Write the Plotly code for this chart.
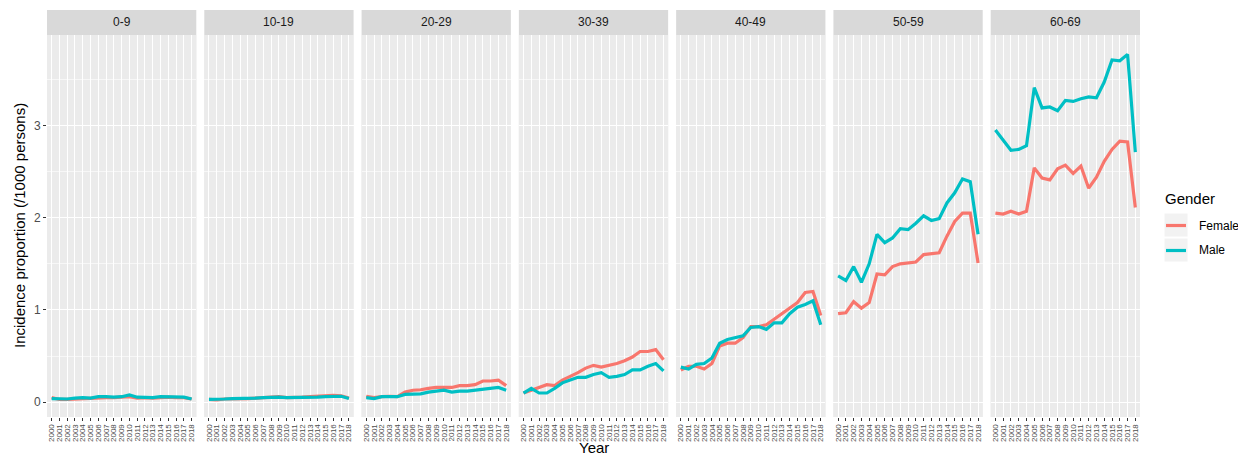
import plotly.graph_objects as go
from plotly.subplots import make_subplots

# Incidence proportion (/1000 persons) by age group, gender and year
years = list(range(2000, 2019))
age_groups = ["0-9", "10-19", "20-29", "30-39", "40-49", "50-59", "60-69"]

female = {
    "0-9":   [0.05, 0.03, 0.03, 0.035, 0.04, 0.04, 0.045, 0.05, 0.05, 0.055, 0.06, 0.045, 0.05, 0.045, 0.05, 0.055, 0.05, 0.05, 0.035],
    "10-19": [0.03, 0.025, 0.035, 0.035, 0.04, 0.04, 0.045, 0.05, 0.06, 0.06, 0.05, 0.05, 0.055, 0.06, 0.065, 0.07, 0.075, 0.07, 0.045],
    "20-29": [0.065, 0.05, 0.06, 0.065, 0.06, 0.11, 0.13, 0.135, 0.15, 0.16, 0.16, 0.16, 0.18, 0.18, 0.19, 0.23, 0.23, 0.24, 0.18],
    "30-39": [0.10, 0.13, 0.16, 0.19, 0.18, 0.24, 0.28, 0.32, 0.37, 0.40, 0.38, 0.40, 0.42, 0.45, 0.49, 0.55, 0.55, 0.57, 0.46],
    "40-49": [0.35, 0.39, 0.39, 0.36, 0.42, 0.61, 0.64, 0.64, 0.70, 0.82, 0.82, 0.84, 0.90, 0.96, 1.03, 1.08, 1.19, 1.20, 0.94],
    "50-59": [0.96, 0.97, 1.09, 1.02, 1.08, 1.39, 1.38, 1.47, 1.50, 1.51, 1.52, 1.60, 1.61, 1.62, 1.80, 1.96, 2.05, 2.05, 1.51],
    "60-69": [2.05, 2.04, 2.07, 2.04, 2.07, 2.54, 2.43, 2.41, 2.53, 2.57, 2.48, 2.56, 2.32, 2.44, 2.61, 2.74, 2.83, 2.82, 2.11],
}
male = {
    "0-9":   [0.04, 0.04, 0.035, 0.045, 0.05, 0.045, 0.06, 0.06, 0.055, 0.06, 0.08, 0.055, 0.055, 0.05, 0.06, 0.06, 0.055, 0.055, 0.035],
    "10-19": [0.03, 0.03, 0.035, 0.04, 0.04, 0.04, 0.045, 0.05, 0.055, 0.055, 0.05, 0.05, 0.05, 0.055, 0.055, 0.06, 0.065, 0.065, 0.04],
    "20-29": [0.05, 0.04, 0.06, 0.06, 0.06, 0.085, 0.085, 0.09, 0.11, 0.12, 0.13, 0.11, 0.12, 0.12, 0.13, 0.135, 0.15, 0.16, 0.13],
    "30-39": [0.10, 0.15, 0.10, 0.10, 0.15, 0.21, 0.24, 0.27, 0.27, 0.30, 0.32, 0.27, 0.28, 0.30, 0.35, 0.35, 0.39, 0.42, 0.34],
    "40-49": [0.38, 0.36, 0.41, 0.42, 0.48, 0.64, 0.68, 0.70, 0.72, 0.81, 0.82, 0.79, 0.86, 0.86, 0.96, 1.03, 1.06, 1.10, 0.84],
    "50-59": [1.37, 1.32, 1.47, 1.30, 1.50, 1.82, 1.73, 1.78, 1.88, 1.87, 1.94, 2.02, 1.97, 1.99, 2.16, 2.27, 2.42, 2.39, 1.82],
    "60-69": [2.95, 2.84, 2.73, 2.74, 2.78, 3.41, 3.19, 3.20, 3.16, 3.27, 3.26, 3.29, 3.31, 3.30, 3.47, 3.71, 3.70, 3.77, 2.71],
}

genders = ["Female", "Male"]
colors = {"Female": "#F8766D", "Male": "#00BFC4"}
y_ticks = [0, 1, 2, 3]

FONT = "Liberation Sans, Arial, Helvetica, sans-serif"
W, H = 1238, 459
ML, MR, MT, MB = 47, 98, 10, 42
PW, PH = W - ML - MR, H - MT - MB
STRIP_H = 25
panel_top = 1 - STRIP_H / PH


def px_x(x):
    return (x - ML) / PW


def px_y(y):
    return (H - MB - y) / PH


n = len(age_groups)
fig = make_subplots(rows=1, cols=n, shared_yaxes=True, horizontal_spacing=8 / PW)

for i, grp in enumerate(age_groups, start=1):
    for g, series in (("Female", female), ("Male", male)):
        fig.add_trace(
            go.Scatter(
                x=years, y=series[grp], mode="lines", name=g,
                line=dict(color=colors[g], width=3.2),
                showlegend=False, hoverinfo="skip",
            ),
            row=1, col=i,
        )

for i in range(1, n + 1):
    fig.update_xaxes(
        row=1, col=i,
        range=[years[0] - 0.6, years[-1] + 0.6],
        tickmode="array", tickvals=years, ticktext=[str(y) for y in years],
        tickangle=-90, tickfont=dict(size=8, color="#4d4d4d", family=FONT),
        ticks="outside", ticklen=3, tickwidth=1, tickcolor="#333333",
        showgrid=True, gridcolor="white", gridwidth=1.4,
        zeroline=False, showline=False,
    )
    fig.update_yaxes(
        row=1, col=i,
        range=[-0.16, 3.98], domain=[0, panel_top],
        tickmode="array", tickvals=y_ticks,
        showticklabels=(i == 1),
        tickfont=dict(size=12, color="#4d4d4d", family=FONT),
        ticks="outside" if i == 1 else "", ticklen=3, tickwidth=1, tickcolor="#333333",
        showgrid=True, gridcolor="white", gridwidth=1.4,
        minor=dict(tickmode="array", tickvals=[0.5, 1.5, 2.5, 3.5], showgrid=True,
                   gridcolor="#F7F7F7", gridwidth=0.7, ticks=""),
        zeroline=False, showline=False,
    )

shapes = []
annotations = []

# panel backgrounds and facet strips
for i in range(1, n + 1):
    xa = fig.layout["xaxis" if i == 1 else f"xaxis{i}"]
    x0, x1 = xa.domain
    shapes.append(dict(type="rect", xref="paper", yref="paper", x0=x0, x1=x1,
                       y0=0, y1=panel_top, fillcolor="#EBEBEB", line_width=0, layer="below"))
    shapes.append(dict(type="rect", xref="paper", yref="paper", x0=x0, x1=x1,
                       y0=panel_top, y1=1, fillcolor="#D9D9D9", line_width=0))
    annotations.append(dict(text=age_groups[i - 1], xref="paper", yref="paper",
                            x=(x0 + x1) / 2, y=(panel_top + 1) / 2, showarrow=False,
                            font=dict(size=12, color="#1a1a1a", family=FONT),
                            xanchor="center", yanchor="middle"))

# axis titles
annotations.append(dict(text="Year", xref="paper", yref="paper", x=0.5, y=px_y(458),
                        showarrow=False, xanchor="center", yanchor="bottom",
                        font=dict(size=15, color="black", family=FONT)))
annotations.append(dict(text="Incidence proportion (/1000 persons)", xref="paper", yref="paper",
                        x=px_x(20), y=panel_top / 2, textangle=-90, showarrow=False,
                        xanchor="center", yanchor="middle",
                        font=dict(size=15, color="black", family=FONT)))

# legend
annotations.append(dict(text="Gender", xref="paper", yref="paper", x=px_x(1163), y=px_y(198),
                        showarrow=False, xanchor="left", yanchor="middle",
                        font=dict(size=15, color="black", family=FONT)))
for k, g in enumerate(genders):
    top = 213 + k * 25
    shapes.append(dict(type="rect", xref="paper", yref="paper",
                       x0=px_x(1164), x1=px_x(1188), y0=px_y(top + 24), y1=px_y(top),
                       fillcolor="#F2F2F2", line=dict(color="white", width=1)))
    yc = px_y(top + 12.5)
    shapes.append(dict(type="line", xref="paper", yref="paper",
                       x0=px_x(1166), x1=px_x(1186), y0=yc, y1=yc,
                       line=dict(color=colors[g], width=3.2)))
    annotations.append(dict(text=g, xref="paper", yref="paper", x=px_x(1197), y=yc,
                            showarrow=False, xanchor="left", yanchor="middle",
                            font=dict(size=12, color="black", family=FONT)))

fig.update_layout(
    width=W, height=H,
    margin=dict(l=ML, r=MR, t=MT, b=MB),
    paper_bgcolor="white", plot_bgcolor="#EBEBEB",
    showlegend=False,
    shapes=shapes, annotations=annotations,
    font=dict(family=FONT),
)

fig.write_html("out.html")
